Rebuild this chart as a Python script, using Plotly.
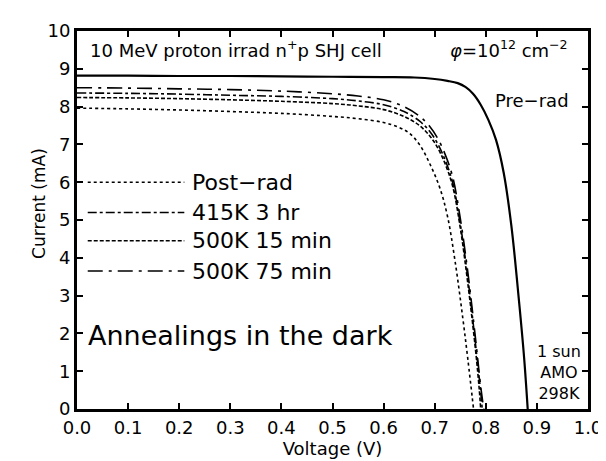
"""I-V curves of a proton-irradiated n+p SHJ cell, before and after dark anneals."""
import plotly.graph_objects as go

# Pre-rad (solid)
pre_v = [0, 0.1, 0.2, 0.3, 0.4, 0.5, 0.6, 0.66, 0.7, 0.725, 0.745, 0.76, 0.775,
         0.79, 0.805, 0.82, 0.835, 0.85, 0.865, 0.875, 0.882]
pre_i = [8.82, 8.82, 8.81, 8.81, 8.80, 8.79, 8.78, 8.77, 8.73, 8.68, 8.62, 8.52,
         8.34, 8.05, 7.65, 7.12, 6.25, 4.85, 2.85, 1.35, 0.0]

# Post-rad (dotted)
post_v = [0, 0.1, 0.2, 0.3, 0.4, 0.5, 0.55, 0.6, 0.63, 0.65, 0.67, 0.69, 0.71,
          0.725, 0.74, 0.755, 0.765, 0.776]
post_i = [7.96, 7.94, 7.91, 7.87, 7.82, 7.74, 7.68, 7.58, 7.45, 7.30, 7.00, 6.50,
          5.85, 5.10, 3.90, 2.40, 1.30, 0.0]

# 415K 3 hr (dash-dot)
a415_v = [0, 0.1, 0.2, 0.3, 0.4, 0.5, 0.55, 0.6, 0.64, 0.67, 0.69, 0.705, 0.72,
          0.735, 0.75, 0.765, 0.78, 0.79, 0.793]
a415_i = [8.36, 8.35, 8.33, 8.30, 8.27, 8.21, 8.15, 8.05, 7.87, 7.62, 7.35, 7.04,
          6.60, 6.00, 4.90, 3.45, 1.70, 0.45, 0.0]

# 500K 15 min (dashed)
a500s_v = [0, 0.1, 0.2, 0.3, 0.4, 0.5, 0.55, 0.6, 0.64, 0.67, 0.69, 0.705, 0.72,
           0.735, 0.75, 0.765, 0.78, 0.787, 0.790]
a500s_i = [8.24, 8.23, 8.21, 8.18, 8.14, 8.08, 8.02, 7.92, 7.74, 7.50, 7.23, 6.93,
           6.50, 5.90, 4.80, 3.30, 1.55, 0.55, 0.0]

# 500K 75 min (long dash-dot)
a500l_v = [0, 0.1, 0.2, 0.3, 0.4, 0.5, 0.55, 0.6, 0.64, 0.67, 0.69, 0.705, 0.72,
           0.735, 0.75, 0.765, 0.78, 0.79, 0.796]
a500l_i = [8.50, 8.49, 8.47, 8.45, 8.41, 8.34, 8.28, 8.18, 8.00, 7.75, 7.48, 7.18,
           6.75, 6.15, 5.05, 3.60, 1.85, 0.60, 0.0]

legend_labels = ["Post\u2212rad", "415K 3 hr", "500K 15 min", "500K 75 min"]
legend_dashes = ["dot", "dashdot", "4px,2px", "longdashdot"]
legend_levels = [6.0, 5.2, 4.45, 3.65]

FONT = "DejaVu Sans"

fig = go.Figure()
series = [
    (pre_v, pre_i, "solid", 2.2),
    (post_v, post_i, "dot", 1.6),
    (a415_v, a415_i, "dashdot", 1.6),
    (a500s_v, a500s_i, "4px,2px", 1.6),
    (a500l_v, a500l_i, "longdashdot", 1.6),
]
for xs, ys, dash, width in series:
    fig.add_trace(go.Scatter(
        x=xs, y=ys, mode="lines", line_shape="spline",
        line=dict(color="black", width=width, dash=dash),
        showlegend=False, hoverinfo="skip",
    ))

# hand-drawn style legend inside the axes
for label, dash, level in zip(legend_labels, legend_dashes, legend_levels):
    fig.add_trace(go.Scatter(
        x=[0.021, 0.21], y=[level, level], mode="lines",
        line=dict(color="black", width=1.5, dash=dash),
        showlegend=False, hoverinfo="skip",
    ))
    fig.add_annotation(x=0.222, y=level, text=label, showarrow=False,
                       xanchor="left", yanchor="middle",
                       font=dict(family=FONT, size=22, color="black"))

texts = [
    dict(x=0.022, y=9.52, text="10 MeV proton irrad n<sup>+</sup>p SHJ cell",
         xanchor="left", size=18),
    dict(x=0.965, y=9.52, text="<i>\u03c6</i>=10<sup>12</sup> cm<sup>\u22122</sup>",
         xanchor="right", size=18),
    dict(x=0.967, y=8.15, text="Pre\u2212rad", xanchor="right", size=18),
    dict(x=0.018, y=1.95, text="Annealings in the dark", xanchor="left", size=27),
    dict(x=0.99, y=0.97, text="1 sun<br>AMO<br>298K", xanchor="right", size=16),
]
for t in texts:
    fig.add_annotation(x=t["x"], y=t["y"], text=t["text"], showarrow=False,
                       xanchor=t["xanchor"], yanchor="middle", align="center",
                       font=dict(family=FONT, size=t["size"], color="black"))

fig.add_annotation(xref="paper", yref="paper", x=-0.098, y=0.545,
                   text="Current (mA)", textangle=-90, showarrow=False,
                   font=dict(family=FONT, size=17, color="black"))

axis_common = dict(
    showline=True, linecolor="black", linewidth=3, mirror="allticks",
    ticks="inside", ticklen=6, tickwidth=1.5, tickcolor="black",
    showgrid=False, zeroline=False, ticklabeloverflow="allow",
)
fig.update_xaxes(range=[0, 1.0], dtick=0.1, tickformat=".1f",
                 tickfont=dict(family=FONT, size=18, color="black"),
                 title=dict(text="Voltage (V)", font=dict(family=FONT, size=18),
                            standoff=6),
                 **axis_common)
fig.update_yaxes(range=[0, 10], dtick=1,
                 tickfont=dict(family=FONT, size=18, color="black"),
                 **axis_common)

fig.update_layout(
    width=606, height=461,
    margin=dict(l=69, r=15, t=14, b=60),
    plot_bgcolor="white", paper_bgcolor="white",
    font=dict(family=FONT, color="black"),
)

fig.write_html("out.html")
